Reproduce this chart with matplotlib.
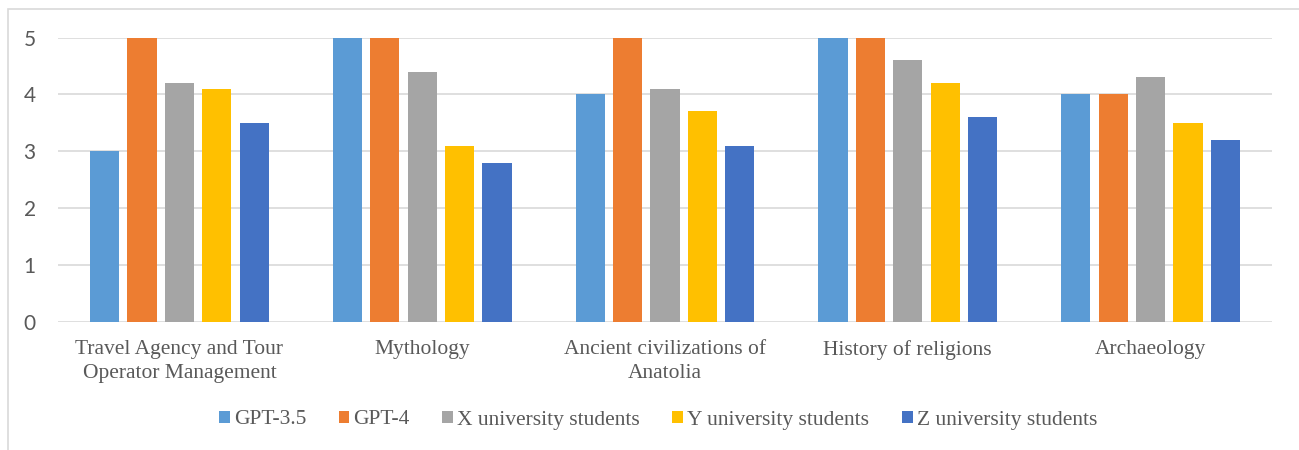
import matplotlib.pyplot as plt
from matplotlib.patches import Rectangle
import numpy as np

categories = ['Travel Agency and Tour\nOperator Management', 'Mythology',
              'Ancient civilizations of\nAnatolia', 'History of religions', 'Archaeology']
gpt35 = [3, 5, 4, 5, 4]
gpt4 = [5, 5, 5, 5, 4]
x_students = [4.2, 4.4, 4.1, 4.6, 4.3]
y_students = [4.1, 3.1, 3.7, 4.2, 3.5]
z_students = [3.5, 2.8, 3.1, 3.6, 3.2]

series = [gpt35, gpt4, x_students, y_students, z_students]
labels = ['GPT-3.5', 'GPT-4', 'X university students', 'Y university students', 'Z university students']
colors = ['#5B9BD5', '#ED7D31', '#A5A5A5', '#FFC000', '#4472C4']

fig = plt.figure(figsize=(12.99, 4.5), dpi=100)
ax = fig.add_axes([58/1299, 1-322/450, (1272-58)/1299, (322-37.5)/450])

x = np.arange(len(categories))
step = 0.154
width = 0.12
for i, (vals, lab, c) in enumerate(zip(series, labels, colors)):
    ax.bar(x + (i-2)*step, vals, width, color=c, label=lab, zorder=3)

ax.set_xlim(-0.5, 4.5)
ax.set_ylim(0, 5)
ax.set_yticks(range(6))
ax.grid(axis='y', color='#D9D9D9', lw=1.2, zorder=0)
ax.set_axisbelow(True)
for s in ax.spines.values():
    s.set_visible(False)
ax.tick_params(length=0)
ax.tick_params(axis='y', pad=16, labelsize=15, labelcolor='#595959')
for t in ax.get_yticklabels():
    t.set_family('Lato')
ax.set_xticks(x)
ax.set_xticklabels(categories, family='Liberation Serif', fontsize=15.5, color='#595959', linespacing=1.35)
ax.tick_params(axis='x', pad=13)

fig.legend(loc='center', bbox_to_anchor=(658/1299, 1-420/450), ncol=5, frameon=False,
           prop={'family': 'Liberation Serif', 'size': 15.5}, labelcolor='#595959',
           handlelength=0.5, handleheight=0.5, handletextpad=0.2, columnspacing=1.5)

fig.patches.append(Rectangle((7.5/1299, -0.1), 1.5, 1.1-8.5/450, transform=fig.transFigure,
                             fill=False, edgecolor='#D9D9D9', lw=1.2))

fig.savefig('out.png', dpi=100)
